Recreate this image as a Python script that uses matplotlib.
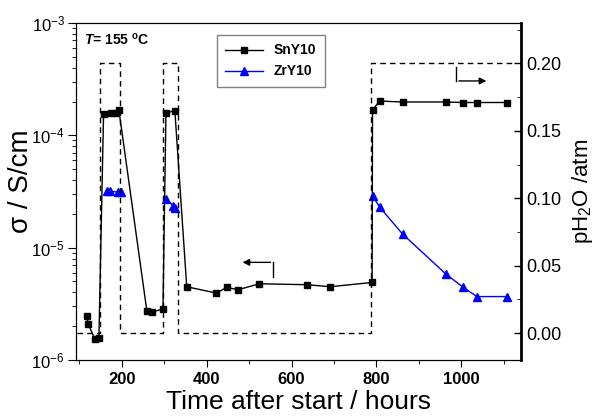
import matplotlib
matplotlib.use('Agg')
import matplotlib.pyplot as plt
import numpy as np
from matplotlib.ticker import MultipleLocator, LogLocator, NullFormatter, FormatStrFormatter

plt.rcParams['font.family'] = ['Liberation Sans', 'DejaVu Sans']
plt.rcParams['mathtext.fontset'] = 'custom'
plt.rcParams['mathtext.rm'] = 'Liberation Sans'
plt.rcParams['mathtext.it'] = 'Liberation Sans:italic:bold'
plt.rcParams['mathtext.bf'] = 'Liberation Sans:bold'

# SnY10 conductivity (S/cm) vs time (h)
sn_time = [117, 121, 136, 146, 157, 174, 186, 193, 259, 272, 297, 304, 325,
           353, 423, 447, 474, 524, 637, 691, 790, 791, 808, 862, 964, 1005,
           1037, 1107]
sn_sigma = [2.47e-6, 2.08e-6, 1.55e-6, 1.58e-6, 1.56e-4, 1.57e-4, 1.58e-4,
            1.69e-4, 2.74e-6, 2.68e-6, 2.84e-6, 1.58e-4, 1.66e-4, 4.49e-6,
            3.94e-6, 4.43e-6, 4.22e-6, 4.77e-6, 4.68e-6, 4.49e-6, 4.9e-6,
            1.69e-4, 2.02e-4, 1.98e-4, 1.98e-4, 1.96e-4, 1.96e-4, 1.96e-4]

# ZrY10 conductivity, NaN separates the three measured stretches
zr_time = [164, 172, 191, 197, np.nan, 304, 321, 326, np.nan,
           791, 808, 862, 964, 1005, 1037, 1107]
zr_sigma = [3.18e-5, 3.18e-5, 3.12e-5, 3.1e-5, np.nan, 2.72e-5, 2.37e-5, 2.26e-5, np.nan,
            2.91e-5, 2.29e-5, 1.32e-5, 5.82e-6, 4.43e-6, 3.67e-6, 3.67e-6]

# water partial pressure profile (atm)
ph2o_time = [95, 148, 148, 195, 195, 297, 297, 333, 333, 788, 788, 1130]
ph2o_val = [0, 0, 0.2, 0.2, 0, 0, 0.2, 0.2, 0, 0, 0.2, 0.2]

fig = plt.figure(figsize=(5.95, 4.19), dpi=100)
ax = fig.add_axes([76/595, 1-360/419, 445/595, 337/419])
ax2 = ax.twinx()

ax.plot(sn_time, sn_sigma, '-', color='black', lw=1, marker='s', ms=5, label='SnY10', zorder=3)
ax.plot(zr_time, zr_sigma, '-', color='blue', lw=1, marker='^', ms=6, label='ZrY10', zorder=3)
ax2.plot(ph2o_time, ph2o_val, '--', color='black', lw=1, dashes=(4, 3))

ax.set_yscale('log')
ax.set_ylim(1e-6, 1e-3)
ax.set_xlim(92, 1141)
ax.xaxis.set_major_locator(MultipleLocator(200))
ax.xaxis.set_minor_locator(MultipleLocator(100))
ax.yaxis.set_minor_locator(LogLocator(base=10, subs=range(2, 10)))
ax.yaxis.set_minor_formatter(NullFormatter())

ax2.set_ylim(-0.02, 0.23)
ax2.yaxis.set_major_locator(MultipleLocator(0.05))
ax2.yaxis.set_minor_locator(MultipleLocator(0.025))
ax2.yaxis.set_major_formatter(FormatStrFormatter('%.2f'))

ax.tick_params(axis='x', which='major', direction='out', length=5, labelsize=12)
ax.tick_params(axis='x', which='minor', direction='out', length=3)
ax.tick_params(axis='y', which='major', direction='out', length=6, labelsize=12, pad=2)
ax.tick_params(axis='y', which='minor', direction='out', length=3)
ax2.tick_params(axis='y', which='major', direction='in', length=5, labelsize=13, width=1)
ax2.tick_params(axis='y', which='minor', direction='in', length=3)
for lab in ax.get_xticklabels():
    lab.set_fontweight('bold')

ax2.spines['right'].set_linewidth(2)

ax.set_xlabel('Time after start / hours', fontsize=19, labelpad=2)
ax.set_ylabel('σ / S/cm', fontsize=20)
ax.yaxis.set_label_coords(-0.095, 0.53)
ax2.set_ylabel('pH$_2$O /atm', fontsize=16)
ax2.yaxis.set_label_coords(1.11, 0.5)

ax.legend(loc='upper left', bbox_to_anchor=(0.317, 0.964), fancybox=False,
          edgecolor='gray', prop={'weight': 'bold', 'size': 10}, handlelength=2.7,
          borderpad=0.6, labelspacing=0.5, framealpha=1, borderaxespad=0)

ax.text(0.018, 0.935, r'$\mathit{T}$= 155 $^{\mathbf{o}}$C', transform=ax.transAxes,
        fontsize=10, fontweight='bold')

# axis indicator arrows
ax.annotate('', xy=(478, 7.4e-6), xytext=(557, 7.4e-6),
            arrowprops=dict(arrowstyle='-|>', color='black', lw=1, mutation_scale=10))
ax.plot([557, 557], [7.4e-6, 5.43e-6], color='black', lw=1)
ax2.annotate('', xy=(1066, 0.187), xytext=(988, 0.187),
             arrowprops=dict(arrowstyle='-|>', color='black', lw=1, mutation_scale=10))
ax2.plot([988, 988], [0.197, 0.187], color='black', lw=1)

fig.savefig('out.png', dpi=100)
